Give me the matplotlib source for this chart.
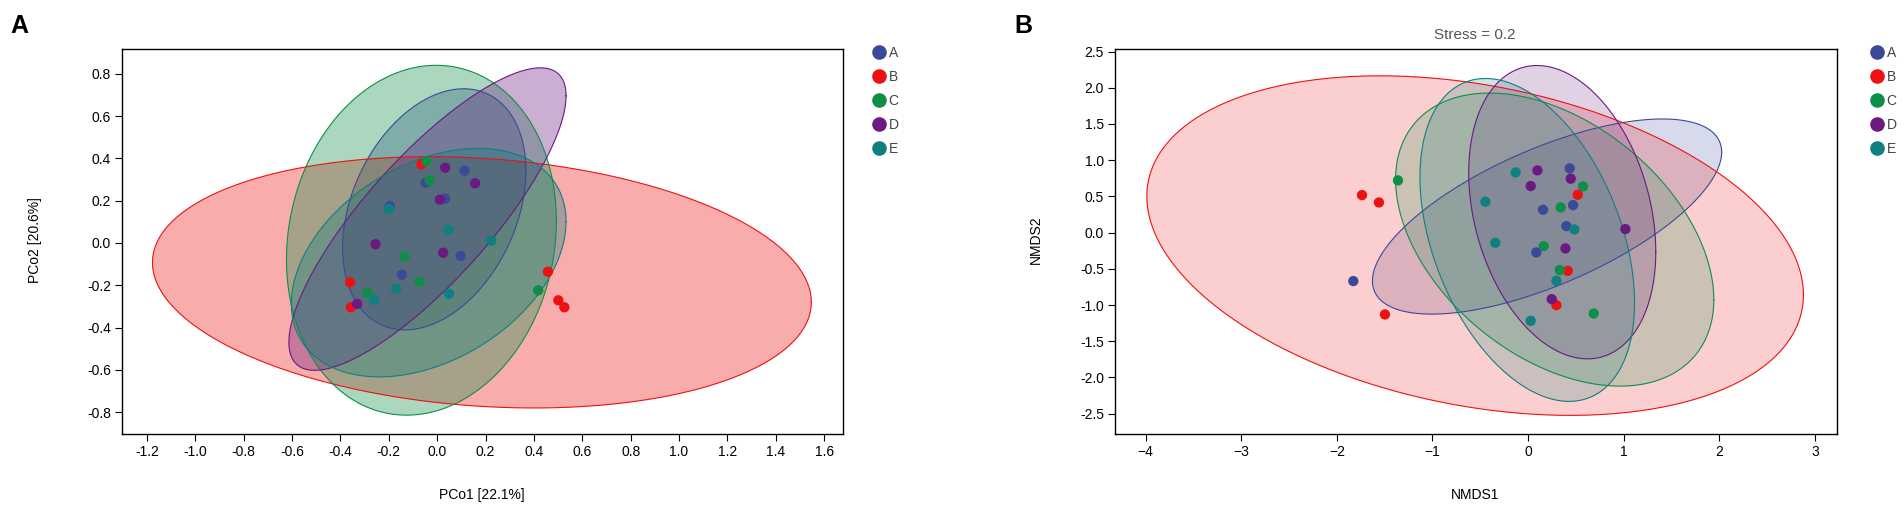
import numpy as np
import matplotlib
matplotlib.use("Agg")
import matplotlib.pyplot as plt
from matplotlib.lines import Line2D

plt.rcParams['font.family'] = ['Liberation Sans', 'DejaVu Sans']

groups = ['A', 'B', 'C', 'D', 'E']
colors = ['#3a4a98', '#ee1111', '#0e8f48', '#6a1a80', '#0e8080']

# PCoA points (panel A)
pcoa_x = {
    'A': [0.113, -0.047, 0.033, -0.196, 0.097, -0.146],
    'B': [-0.065, -0.360, -0.357, 0.458, 0.501, 0.526],
    'C': [-0.044, -0.031, -0.135, -0.288, -0.073, 0.418],
    'D': [0.033, 0.157, 0.011, -0.255, 0.025, -0.331],
    'E': [-0.200, 0.047, 0.224, -0.170, -0.261, 0.049],
}
pcoa_y = {
    'A': [0.342, 0.285, 0.210, 0.175, -0.061, -0.150],
    'B': [0.372, -0.186, -0.304, -0.136, -0.271, -0.304],
    'C': [0.386, 0.296, -0.063, -0.235, -0.184, -0.224],
    'D': [0.356, 0.282, 0.205, -0.006, -0.046, -0.288],
    'E': [0.161, 0.062, 0.011, -0.216, -0.269, -0.240],
}

# NMDS points (panel B)
nmds_x = {
    'A': [0.435, 0.156, 0.470, 0.400, 0.086, -1.828],
    'B': [-1.737, -1.560, 0.519, 0.414, 0.296, -1.497],
    'C': [-1.361, 0.575, 0.341, 0.163, 0.330, 0.686],
    'D': [0.097, 0.446, 0.027, 1.017, 0.390, 0.247],
    'E': [-0.130, -0.447, 0.484, -0.343, 0.296, 0.027],
}
nmds_y = {
    'A': [0.887, 0.316, 0.380, 0.090, -0.273, -0.669],
    'B': [0.518, 0.417, 0.523, -0.527, -1.001, -1.130],
    'C': [0.721, 0.638, 0.348, -0.186, -0.517, -1.116],
    'D': [0.859, 0.744, 0.643, 0.049, -0.218, -0.918],
    'E': [0.832, 0.426, 0.044, -0.140, -0.665, -1.217],
}

# ellipses: centre, half x-extent, half y-extent, correlation
pcoa_ell = {
    'A': (-0.012, 0.159, 0.379, 0.570, 0.32),
    'B': (0.185, -0.186, 1.362, 0.594, -0.158),
    'C': (-0.065, 0.013, 0.558, 0.827, 0.11),
    'D': (-0.040, 0.113, 0.573, 0.715, 0.815),
    'E': (-0.035, -0.093, 0.568, 0.540, 0.36),
}
nmds_ell = {
    'A': (0.198, 0.222, 1.826, 1.347, 0.66),
    'B': (-0.554, -0.179, 3.433, 2.344, -0.29),
    'C': (0.278, -0.096, 1.664, 2.023, -0.41),
    'D': (0.357, 0.282, 0.978, 2.025, -0.27),
    'E': (-0.009, -0.101, 1.122, 2.229, -0.39),
}


def ellipse_xy(cx, cy, sx, sy, rho):
    t = np.linspace(0, 2 * np.pi, 300)
    x = cx + sx * np.cos(t)
    y = cy + sy * (rho * np.cos(t) + np.sqrt(1 - rho ** 2) * np.sin(t))
    return x, y


def draw_panel(ax, px, py, ell, alpha):
    for g, c in zip(groups, colors):
        ex, ey = ellipse_xy(*ell[g])
        ax.fill(ex, ey, facecolor=c, alpha=alpha, edgecolor='none', zorder=1)
        ax.plot(ex, ey, color=c, lw=0.8, zorder=2)
    handles = []
    for g, c in zip(groups, colors):
        ax.scatter(px[g], py[g], s=55, color=c, edgecolor='none', zorder=3)
        handles.append(Line2D([], [], marker='o', ls='', color=c, markersize=9.5, label=g))
    for s in ax.spines.values():
        s.set_linewidth(1.0)
    ax.tick_params(direction='out', length=5, width=0.8, labelsize=10, pad=3)
    return handles


fig = plt.figure(figsize=(19.04, 5.08), dpi=100)
axA = fig.add_axes([122 / 1904, 1 - 434 / 508, 721 / 1904, 385 / 508])
axB = fig.add_axes([1115 / 1904, 1 - 434 / 508, 722 / 1904, 385 / 508])

hA = draw_panel(axA, pcoa_x, pcoa_y, pcoa_ell, 0.35)
axA.set_xlim(-1.303, 1.678)
axA.set_ylim(-0.903, 0.917)
axA.set_xticks(np.round(np.arange(-1.2, 1.61, 0.2), 1) + 0.0)
axA.set_yticks(np.round(np.arange(-0.8, 0.81, 0.2), 1) + 0.0)
fmt = lambda v, pos: '%.1f' % (0.0 if abs(v) < 1e-9 else v)
axA.xaxis.set_major_formatter(matplotlib.ticker.FuncFormatter(fmt))
axA.yaxis.set_major_formatter(matplotlib.ticker.FuncFormatter(fmt))

hB = draw_panel(axB, nmds_x, nmds_y, nmds_ell, 0.2)
axB.set_xlim(-4.32, 3.23)
axB.set_ylim(-2.78, 2.535)
axB.set_xticks(range(-4, 4))
axB.set_yticks(np.round(np.arange(-2.5, 2.51, 0.5), 1))
axB.yaxis.set_major_formatter(matplotlib.ticker.FuncFormatter(fmt))

for ax, h, x in [(axA, hA, 872), (axB, hB, 1870)]:
    ax.legend(handles=h, loc='upper left', bbox_to_anchor=(x / 1904, 1 - 46 / 508),
              bbox_transform=fig.transFigure, frameon=False, fontsize=10,
              labelspacing=0.72, handletextpad=0.2, handlelength=1.0,
              borderaxespad=0, borderpad=0, labelcolor='#444444')

fig.text(482 / 1904, 1 - 495 / 508, 'PCo1 [22.1%]', ha='center', va='center', fontsize=10)
fig.text(35 / 1904, 1 - 240 / 508, 'PCo2 [20.6%]', ha='center', va='center', rotation=90, fontsize=10)
fig.text(1475 / 1904, 1 - 495 / 508, 'NMDS1', ha='center', va='center', fontsize=10)
fig.text(1036 / 1904, 1 - 240 / 508, 'NMDS2', ha='center', va='center', rotation=90, fontsize=10)
fig.text(1475 / 1904, 1 - 35 / 508, 'Stress = 0.2', ha='center', va='center', fontsize=11, color='#555555')
fig.text(10 / 1904, 1 - 26 / 508, 'A', ha='left', va='center', fontsize=18, fontweight='bold')
fig.text(1014 / 1904, 1 - 26 / 508, 'B', ha='left', va='center', fontsize=18, fontweight='bold')

fig.savefig('out.png', dpi=100)
